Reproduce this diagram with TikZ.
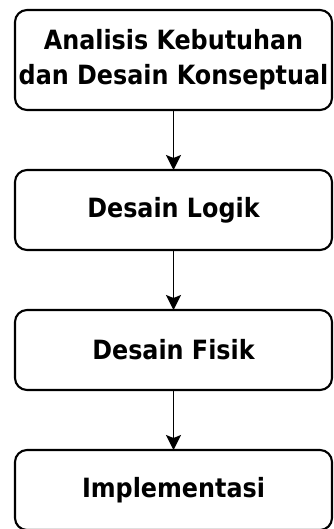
\documentclass[tikz,border=0pt]{standalone}
\usepackage{fontspec}
\setmainfont{DejaVu Sans Condensed}
\usepackage{tikz}
\usetikzlibrary{arrows.meta,positioning}

\begin{document}
\begin{tikzpicture}[
  x=1pt, y=1pt,
  >=Stealth,
  stage/.style={rectangle, rounded corners=12pt, draw=black, fill=white, line width=2.1pt, minimum width=317pt, minimum height=80pt, outer sep=0pt, inner sep=2pt, align=center, font=\fontsize{26.5}{35}\selectfont\bfseries},
  flowarrow/.style={-{Stealth[width=15pt,length=15pt,inset=3pt]}, line width=1.7pt, draw=black}
]
  \useasboundingbox (0,0) rectangle (333,-529);

  % Stages
  \node[stage, minimum height=100pt] (analisis) at (173.5,-60) {Analisis Kebutuhan\\dan Desain Konseptual};
  \node[stage, below=60pt of analisis] (logik) {Desain Logik};
  \node[stage, below=60pt of logik] (fisik) {Desain Fisik};
  \node[stage, below=60pt of fisik] (impl) {Implementasi};

  % Flow arrows
  \draw[flowarrow] (analisis) -- (logik);
  \draw[flowarrow] (logik) -- (fisik);
  \draw[flowarrow] (fisik) -- (impl);
\end{tikzpicture}
\end{document}
